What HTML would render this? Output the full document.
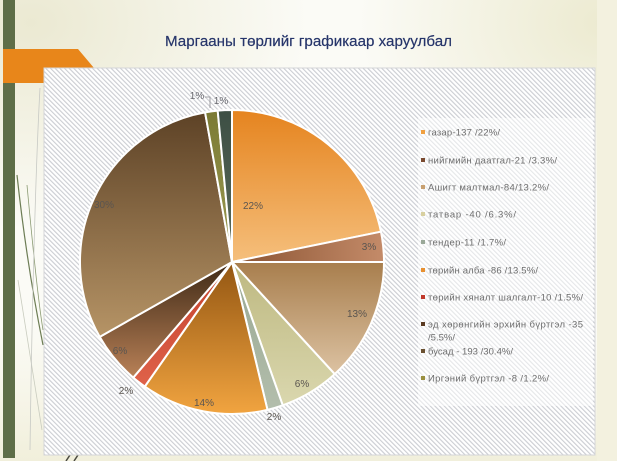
<!DOCTYPE html>
<html>
<head>
<meta charset="utf-8">
<style>
html,body{margin:0;padding:0;width:617px;height:461px;overflow:hidden;background:#fbfbf6;}
svg{display:block;}
</style>
</head>
<body>
<svg width="617" height="461" viewBox="0 0 617 461" xmlns="http://www.w3.org/2000/svg">
<defs>
  <radialGradient id="bgTL" cx="0.05" cy="0.05" r="0.45">
    <stop offset="0" stop-color="#ebe9d2"/>
    <stop offset="1" stop-color="#ebe9d2" stop-opacity="0"/>
  </radialGradient>
  <radialGradient id="bgTR" cx="0.98" cy="0.05" r="0.4">
    <stop offset="0" stop-color="#ecead0"/>
    <stop offset="1" stop-color="#ecead0" stop-opacity="0"/>
  </radialGradient>
  <linearGradient id="bgB" x1="0" y1="0" x2="0" y2="1">
    <stop offset="0.7" stop-color="#f3f1df" stop-opacity="0"/>
    <stop offset="1" stop-color="#f1efdb"/>
  </linearGradient>
  <pattern id="hatch" patternUnits="userSpaceOnUse" width="3.3" height="10" patternTransform="rotate(-45)">
    <rect x="0" y="0" width="3.3" height="10" fill="#ffffff"/>
    <rect x="0" y="0" width="1.15" height="10" fill="#ccced3"/>
  </pattern>

  <linearGradient id="g1" x1="0" y1="0" x2="0" y2="1"><stop offset="0" stop-color="#e5841f"/><stop offset="1" stop-color="#f5bf7c"/></linearGradient>
  <linearGradient id="g2" x1="0" y1="0" x2="1" y2="0"><stop offset="0" stop-color="#8a5332"/><stop offset="1" stop-color="#c48b69"/></linearGradient>
  <linearGradient id="g3" x1="0" y1="0" x2="0" y2="1"><stop offset="0" stop-color="#a87e4d"/><stop offset="1" stop-color="#dcc2a2"/></linearGradient>
  <linearGradient id="g4" x1="0" y1="0" x2="0" y2="1"><stop offset="0" stop-color="#bdb880"/><stop offset="1" stop-color="#dad7ae"/></linearGradient>
  <linearGradient id="g5" x1="0" y1="0" x2="0" y2="1"><stop offset="0" stop-color="#98a792"/><stop offset="1" stop-color="#b3beac"/></linearGradient>
  <linearGradient id="g6" x1="0" y1="0" x2="0" y2="1"><stop offset="0" stop-color="#935612"/><stop offset="1" stop-color="#f1a440"/></linearGradient>
  <linearGradient id="g7" x1="0" y1="0" x2="0" y2="1"><stop offset="0" stop-color="#c3402b"/><stop offset="1" stop-color="#df624a"/></linearGradient>
  <linearGradient id="g8" x1="0" y1="0" x2="0" y2="1"><stop offset="0" stop-color="#3e2916"/><stop offset="1" stop-color="#b98157"/></linearGradient>
  <linearGradient id="g9" x1="0" y1="0" x2="0" y2="1"><stop offset="0" stop-color="#5d4226"/><stop offset="1" stop-color="#b69466"/></linearGradient>
  <linearGradient id="g10" x1="0" y1="0" x2="0" y2="1"><stop offset="0" stop-color="#7b7a34"/><stop offset="1" stop-color="#9c9b52"/></linearGradient>
  <linearGradient id="g11" x1="0" y1="0" x2="0" y2="1"><stop offset="0" stop-color="#3d4f44"/><stop offset="1" stop-color="#5b6b5b"/></linearGradient>
</defs>

<!-- page background -->
<rect x="0" y="0" width="617" height="461" fill="#fbfbf6"/>
<rect x="0" y="0" width="617" height="461" fill="url(#bgTL)"/>
<rect x="0" y="0" width="617" height="461" fill="url(#bgTR)"/>
<rect x="0" y="0" width="617" height="461" fill="url(#bgB)"/>
<rect x="597" y="0" width="20" height="461" fill="#f3f1df"/>

<!-- left decoration -->
<rect x="3" y="0" width="12" height="458" fill="#5e6e48"/>
<path d="M17,175 C24,240 34,300 43,345" stroke="#6d7d55" stroke-width="1.2" fill="none"/>
<path d="M27,185 C33,250 38,300 43,330" stroke="#8a9a72" stroke-width="0.8" fill="none"/>
<path d="M18,280 C26,330 34,380 42,430" stroke="#c9ccbf" stroke-width="0.8" fill="none"/>
<path d="M40,88 C36,160 32,300 30,450" stroke="#c7c9c4" stroke-width="0.8" fill="none"/>
<path d="M66,461 L70,455 M74,461 L78,455" stroke="#4a4a40" stroke-width="1.5" fill="none"/>

<!-- orange tab -->
<polygon points="3,49 78,49 94,68 44,68 44,83 3,83" fill="#e8861a"/>

<!-- chart box -->
<rect x="44" y="68" width="551" height="387" fill="url(#hatch)" stroke="#d4d5d8" stroke-width="1"/>
<!-- legend area -->
<rect x="418" y="118" width="175" height="288" fill="#ffffff" fill-opacity="0.5"/>

<!-- title -->
<text x="165" y="46" font-family="'Liberation Sans', sans-serif" font-size="15" fill="#26356a" stroke="#26356a" stroke-width="0.2" textLength="287" lengthAdjust="spacingAndGlyphs">Маргааны төрлийг графикаар харуулбал</text>

<!-- pie -->
<g stroke="#ffffff" stroke-width="2" stroke-linejoin="round">
  <path d="M232,262 L232,110 A152,152 0 0 1 380.95,231.70 Z" fill="url(#g1)"/>
  <path d="M232,262 L380.95,231.70 A152,152 0 0 1 384,262 Z" fill="url(#g2)"/>
  <path d="M232,262 L384,262 A152,152 0 0 1 334.69,374.07 Z" fill="url(#g3)"/>
  <path d="M232,262 L334.69,374.07 A152,152 0 0 1 282.74,405.28 Z" fill="url(#g4)"/>
  <path d="M232,262 L282.74,405.28 A152,152 0 0 1 267.48,409.80 Z" fill="url(#g5)"/>
  <path d="M232,262 L267.48,409.80 A152,152 0 0 1 144.82,386.51 Z" fill="url(#g6)"/>
  <path d="M232,262 L144.82,386.51 A152,152 0 0 1 133.28,377.58 Z" fill="url(#g7)"/>
  <path d="M232,262 L133.28,377.58 A152,152 0 0 1 99.71,336.85 Z" fill="url(#g8)"/>
  <path d="M232,262 L99.71,336.85 A152,152 0 0 1 205.08,112.40 Z" fill="url(#g9)"/>
  <path d="M232,262 L205.08,112.40 A152,152 0 0 1 217.70,110.67 Z" fill="url(#g10)"/>
  <path d="M232,262 L217.70,110.67 A152,152 0 0 1 232,110 Z" fill="url(#g11)"/>
</g>

<!-- data labels -->
<g font-family="'Liberation Sans', sans-serif" font-size="10" fill="#5a5550" text-anchor="middle">
  <text x="253" y="209">22%</text>
  <text x="369" y="250">3%</text>
  <text x="357" y="317">13%</text>
  <text x="302" y="387">6%</text>
  <text x="274" y="420">2%</text>
  <text x="204" y="406">14%</text>
  <text x="126" y="394">2%</text>
  <text x="120" y="354">6%</text>
  <text x="104" y="208">30%</text>
  <text x="197" y="99" fill="#6a6a70">1%</text>
  <text x="221" y="104" fill="#6a6a70">1%</text>
</g>
<path d="M205,97 L210,97 L210,108" stroke="#8a8a90" stroke-width="0.8" fill="none"/>

<!-- legend -->
<g font-family="'Liberation Sans', sans-serif" font-size="9.5" fill="#6e6e6e">
  <rect x="421" y="130" width="4" height="4" fill="#f0a040"/>
  <text x="428" y="135.5" textLength="72" lengthAdjust="spacing">газар-137  /22%/</text>
  <rect x="421" y="158" width="4" height="4" fill="#7a4a30"/>
  <text x="428" y="163.5" textLength="129" lengthAdjust="spacing">нийгмийн даатгал-21 /3.3%/</text>
  <rect x="421" y="185" width="4" height="4" fill="#c8a070"/>
  <text x="428" y="190.5" textLength="121" lengthAdjust="spacing">Ашигт малтмал-84/13.2%/</text>
  <rect x="421" y="212" width="4" height="4" fill="#d8d0a0"/>
  <text x="428" y="217.5" textLength="88" lengthAdjust="spacing">татвар -40 /6.3%/</text>
  <rect x="421" y="240" width="4" height="4" fill="#9aa898"/>
  <text x="428" y="245.5" textLength="78" lengthAdjust="spacing">тендер-11  /1.7%/</text>
  <rect x="421" y="268" width="4" height="4" fill="#e89030"/>
  <text x="428" y="273.5" textLength="110" lengthAdjust="spacing">төрийн алба -86 /13.5%/</text>
  <rect x="421" y="295" width="4" height="4" fill="#c0392b"/>
  <text x="428" y="300.5" textLength="155" lengthAdjust="spacing">төрийн хяналт шалгалт-10 /1.5%/</text>
  <rect x="421" y="322" width="4" height="4" fill="#5a3a20"/>
  <text x="428" y="327.5" textLength="155" lengthAdjust="spacing">эд хөрөнгийн эрхийн бүртгэл -35</text>
  <text x="428" y="340.5" textLength="27" lengthAdjust="spacing">/5.5%/</text>
  <rect x="421" y="349" width="4" height="4" fill="#6a5030"/>
  <text x="428" y="354.5" textLength="85" lengthAdjust="spacing">бусад - 193 /30.4%/</text>
  <rect x="421" y="376" width="4" height="4" fill="#9a9040"/>
  <text x="428" y="381.5" textLength="121" lengthAdjust="spacing">Иргэний бүртгэл -8 /1.2%/</text>
</g>
</svg>
</body>
</html>
